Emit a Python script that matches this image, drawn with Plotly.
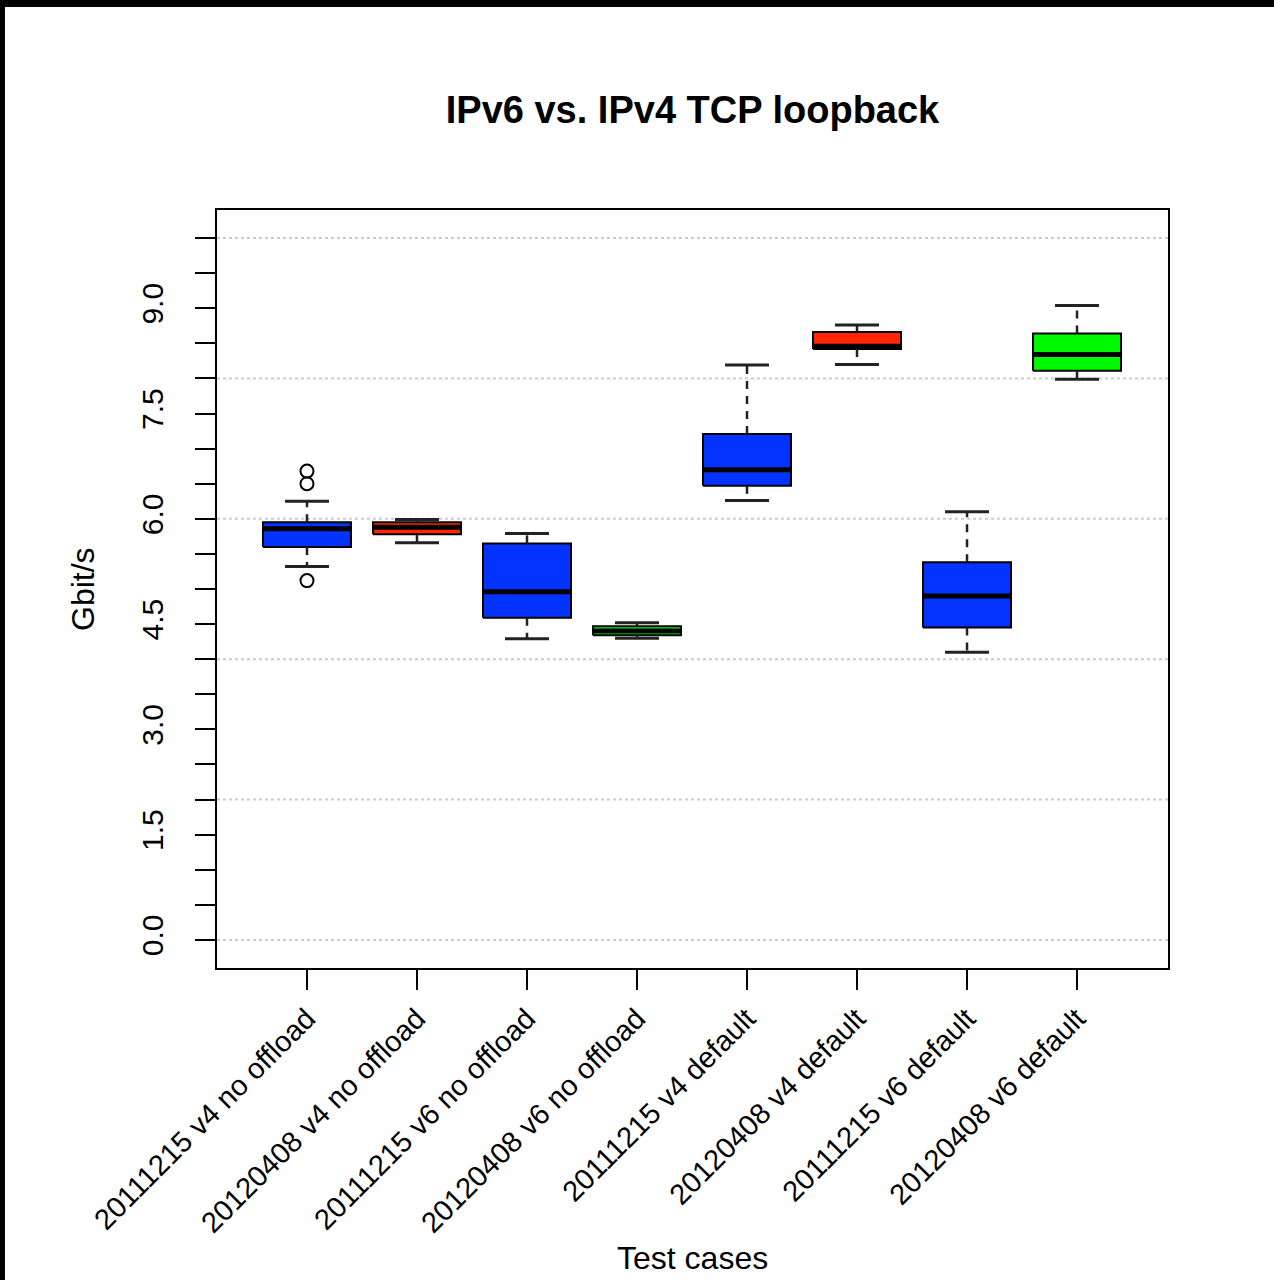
import plotly.graph_objects as go

# Test cases and their five-number summaries (Gbit/s)
categories = [
    "20111215 v4 no offload",
    "20120408 v4 no offload",
    "20111215 v6 no offload",
    "20120408 v6 no offload",
    "20111215 v4 default",
    "20120408 v4 default",
    "20111215 v6 default",
    "20120408 v6 default",
]
lower_whisker = [5.32, 5.66, 4.29, 4.30, 6.26, 8.20, 4.10, 7.99]
q1 = [5.60, 5.78, 4.59, 4.34, 6.47, 8.42, 4.45, 8.11]
median = [5.86, 5.88, 4.96, 4.40, 6.70, 8.46, 4.90, 8.34]
q3 = [5.95, 5.95, 5.65, 4.47, 7.21, 8.66, 5.38, 8.64]
upper_whisker = [6.25, 5.99, 5.79, 4.52, 8.19, 8.76, 6.10, 9.04]

# Outliers: index of the test case and the value
outlier_case = [0, 0, 0]
outlier_value = [6.68, 6.50, 5.12]

BLUE = "#0433FF"
RED = "#FF2600"
GREEN = "#00F900"
fill_colors = [BLUE, RED, BLUE, GREEN, BLUE, RED, BLUE, GREEN]

y_ticks = [i * 0.5 for i in range(21)]
y_tick_labels = [f"{v:.1f}" if abs(v / 1.5 - round(v / 1.5)) < 1e-9 else "" for v in y_ticks]
grid_values = [0, 2, 4, 6, 8, 10]

W, H = 1274, 1280
ML, MR, MT, MB = 217, 106, 210, 312
PW, PH = W - ML - MR, H - MT - MB
FONT = "Liberation Sans, Arial, Helvetica, sans-serif"

BOX_HALF = 0.4
CAP_HALF = 0.2

fig = go.Figure()

for i, cat in enumerate(categories):
    # box body
    fig.add_trace(go.Scatter(
        x=[i - BOX_HALF, i + BOX_HALF, i + BOX_HALF, i - BOX_HALF, i - BOX_HALF],
        y=[q1[i], q1[i], q3[i], q3[i], q1[i]],
        mode="lines", fill="toself", fillcolor=fill_colors[i],
        line=dict(color="black", width=2), hoverinfo="skip", showlegend=False,
    ))
    # whiskers (dashed)
    fig.add_trace(go.Scatter(
        x=[i, i, None, i, i],
        y=[q3[i], upper_whisker[i], None, q1[i], lower_whisker[i]],
        mode="lines", line=dict(color="#222222", width=2.5, dash="8px,7px"),
        hoverinfo="skip", showlegend=False,
    ))
    # whisker caps
    fig.add_trace(go.Scatter(
        x=[i - CAP_HALF, i + CAP_HALF, None, i - CAP_HALF, i + CAP_HALF],
        y=[upper_whisker[i], upper_whisker[i], None, lower_whisker[i], lower_whisker[i]],
        mode="lines", line=dict(color="#222222", width=3),
        hoverinfo="skip", showlegend=False,
    ))
    # median
    fig.add_trace(go.Scatter(
        x=[i - BOX_HALF, i + BOX_HALF],
        y=[median[i], median[i]],
        mode="lines", line=dict(color="black", width=5),
        hoverinfo="skip", showlegend=False,
    ))

fig.add_trace(go.Scatter(
    x=outlier_case, y=outlier_value, mode="markers",
    marker=dict(symbol="circle-open", size=13, color="black", line=dict(width=2)),
    hoverinfo="skip", showlegend=False,
))

shapes = []
for g in grid_values:
    shapes.append(dict(type="line", xref="paper", yref="y", x0=0, x1=1, y0=g, y1=g,
                       line=dict(color="#cccccc", width=2, dash="dot"), layer="below"))


def px_x(p):
    return (p - ML) / PW


def px_y(p):
    return (H - MB - p) / PH


# dark frame along the top and left edges of the page
shapes.append(dict(type="rect", xref="paper", yref="paper",
                   x0=px_x(0), x1=px_x(W), y0=px_y(0), y1=px_y(7),
                   fillcolor="black", line=dict(width=0), layer="above"))
shapes.append(dict(type="rect", xref="paper", yref="paper",
                   x0=px_x(0), x1=px_x(5), y0=px_y(0), y1=px_y(H),
                   fillcolor="black", line=dict(width=0), layer="above"))

annotations = [
    dict(text="Test cases", xref="paper", yref="paper", x=0.5, y=px_y(1258),
         xanchor="center", yanchor="middle", showarrow=False,
         font=dict(family=FONT, size=32, color="black")),
    dict(text="Gbit/s", xref="paper", yref="paper", x=px_x(83), y=0.5,
         xanchor="center", yanchor="middle", textangle=-90, showarrow=False,
         font=dict(family=FONT, size=32, color="black")),
]

fig.update_layout(
    width=W, height=H,
    margin=dict(l=ML, r=MR, t=MT, b=MB),
    paper_bgcolor="white", plot_bgcolor="white",
    title=dict(text="<b>IPv6 vs. IPv4 TCP loopback</b>", x=0.5, xref="paper",
               y=1 - 110 / H, yref="container", xanchor="center", yanchor="middle",
               font=dict(family=FONT, size=38, color="black")),
    xaxis=dict(
        range=[-0.818, 7.827], tickvals=list(range(len(categories))), ticktext=categories,
        tickangle=-45, ticks="outside", ticklen=20, tickwidth=2, tickcolor="black",
        showline=True, linecolor="black", linewidth=2, mirror=True,
        showgrid=False, zeroline=False,
        tickfont=dict(family=FONT, size=29, color="black"),
    ),
    yaxis=dict(
        range=[-0.4, 10.4], tickvals=y_ticks, ticktext=y_tick_labels,
        tickangle=-90, ticks="outside", ticklen=20, tickwidth=2, tickcolor="black",
        showline=True, linecolor="black", linewidth=2, mirror=True,
        showgrid=False, zeroline=False, ticklabelstandoff=20,
        tickfont=dict(family=FONT, size=30, color="black"),
    ),
    shapes=shapes,
    annotations=annotations,
)

fig.write_html("out.html")
